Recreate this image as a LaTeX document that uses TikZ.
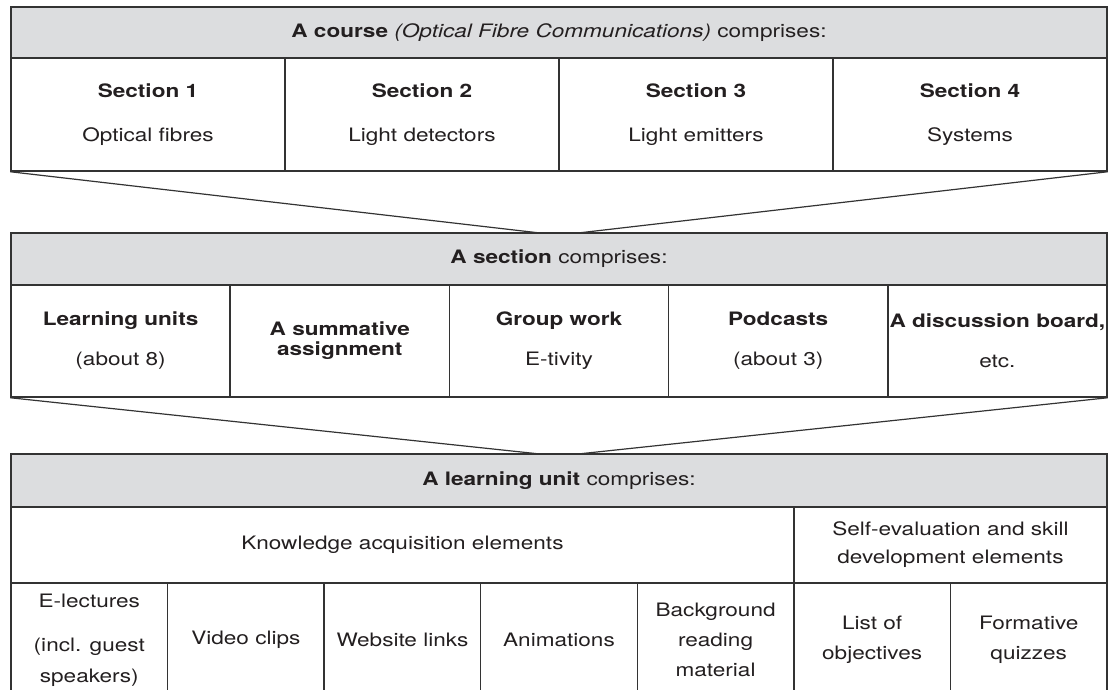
\documentclass[tikz,border=0pt]{standalone}
\usepackage{fontspec}
\setmainfont[FakeStretch=1.22]{TeX Gyre Heros}
\usepackage{tikz}
\usetikzlibrary{positioning,calc}

\definecolor{boxgrey}{HTML}{DCDDDF}
\definecolor{linegrey}{HTML}{333333}
\definecolor{inkblack}{HTML}{231F20}

\tikzset{
	cell/.style={draw=linegrey, line width=1.5pt, inner sep=0pt, align=center,
		text=inkblack, font=\fontsize{18.5}{22}\selectfont},
	head/.style={cell, fill=boxgrey},
	funnel/.style={draw=linegrey, line width=1.2pt}
}

\begin{document}
\begin{tikzpicture}[x=1pt,y=-1pt]
	\def\lft{11}
	\def\wA{274}     % four sections
	\def\wB{219.2}   % five parts of a section
	\def\wC{156.57}  % seven elements of a unit
\useasboundingbox (0,0) rectangle (1117,690);
\clip (0,0) rectangle (1117,690); % bottom row runs off the page

%Le cours
\node[head, minimum width=1096pt, minimum height=51pt] (course) at (559,32.5)
	{\textbf{A course} \textit{(Optical Fibre Communications)} comprises:};
\foreach \i/\txt in {1/Optical fibres, 2/Light detectors, 3/Light emitters, 4/Systems} {
	\node[cell, minimum width=\wA*1pt, minimum height=113pt] (sec\i)
		at (\lft+\wA*\i-\wA/2,114.5) {\textbf{Section \i}\\[22pt]\txt};
}

%Une section
\node[head, minimum width=1096pt, minimum height=52pt] (section) at (559,259)
	{\textbf{A section} comprises:};
\foreach \i/\txt in {1/{\textbf{Learning units}\\[18pt](about 8)},
	2/{\textbf{A summative}\\[-2pt]\textbf{assignment}},
	3/{\textbf{Group work}\\[18pt]E-tivity},
	4/{\textbf{Podcasts}\\[18pt](about 3)},
	5/{\textbf{A discussion board,}\\[18pt]etc.}} {
	\node[cell, minimum width=\wB*1pt, minimum height=112pt] (part\i)
		at (\lft+\wB*\i-\wB/2,341) {\txt};
}

%Une unite
\node[head, minimum width=1096pt, minimum height=53pt] (unit) at (559,480.5)
	{\textbf{A learning unit} comprises:};
\node[cell, minimum width=5*\wC*1pt, minimum height=76pt] (know)
	at (\lft+2.5*\wC,545) {Knowledge acquisition elements};
\node[cell, minimum width=2*\wC*1pt, minimum height=76pt] (self)
	at (\lft+6*\wC,545) {Self-evaluation and skill\\[6pt]development elements};
\foreach \i/\txt in {1/{E-lectures\\[22pt](incl. guest\\[9pt]speakers)},
	2/Video clips, 3/Website links, 4/Animations,
	5/{Background\\[8pt]reading\\[8pt]material},
	6/{List of\\[8pt]objectives},
	7/{Formative\\[8pt]quizzes}} {
	\node[cell, minimum width=\wC*1pt, minimum height=114pt] (elem\i)
		at (\lft+\wC*\i-\wC/2,640) {\txt};
}

%Entonnoirs
\coordinate (sA) at (540,233);
\coordinate (sB) at (578,233);
\coordinate (uA) at (540,454);
\coordinate (uB) at (578,454);
\draw[funnel] (sec1.south west) -- (sA);
\draw[funnel] (sec4.south east) -- (sB);
\draw[funnel] (part1.south west) -- (uA);
\draw[funnel] (part5.south east) -- (uB);

\end{tikzpicture}
\end{document}
